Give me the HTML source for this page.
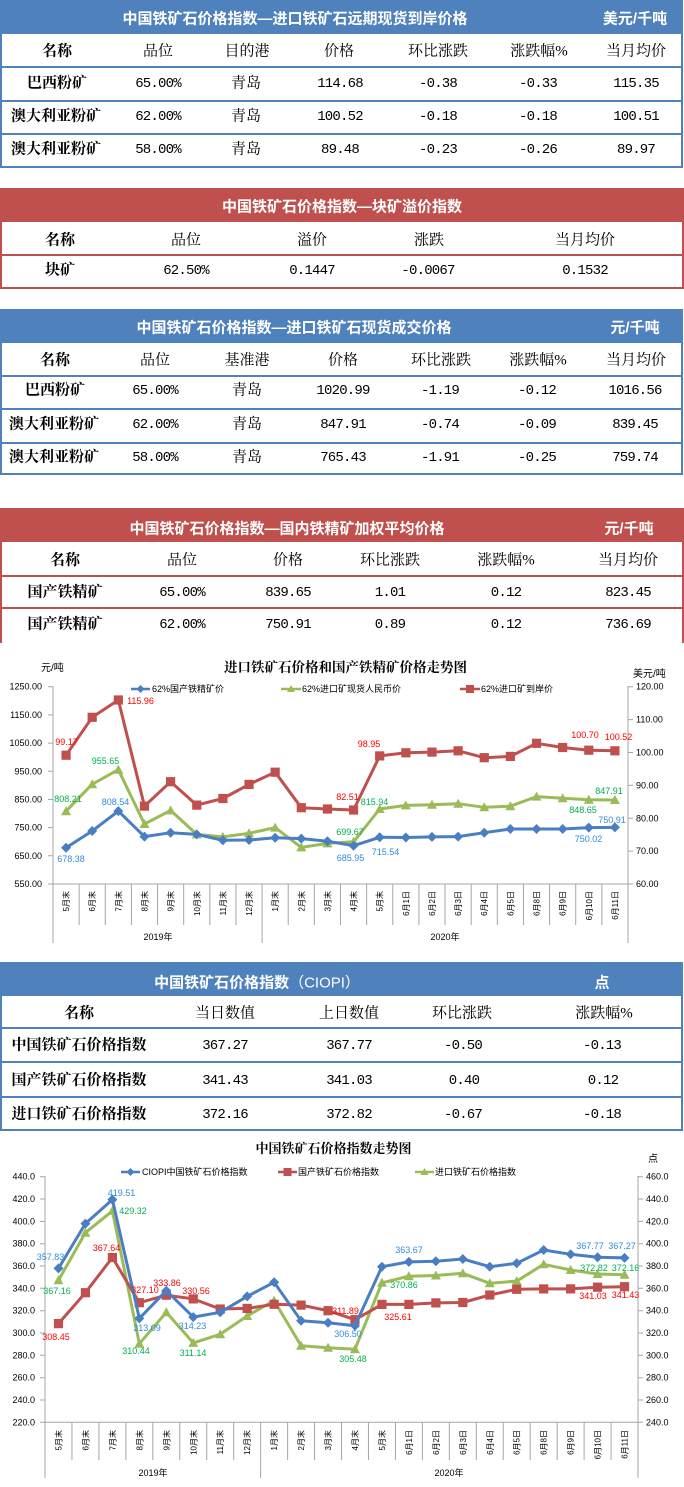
<!DOCTYPE html>
<html><head><meta charset="utf-8">
<style>
*{margin:0;padding:0;box-sizing:border-box}
html,body{width:684px;height:1487px;background:#fff;overflow:hidden}
#pg{position:relative;width:684px;height:1487px;background:#fff}
.r{position:absolute}
.bl{background:#4F81BD}
.rd{background:#C0504D}
.t{position:absolute;transform:translate(-50%,-50%);white-space:nowrap;line-height:1;font-family:"Liberation Serif","Noto Serif CJK SC",serif;font-size:15px;color:#000}
.b{font-weight:700}
.n{font-family:"Liberation Mono",monospace;font-size:14px;letter-spacing:-0.8px}
.h{color:#fff;font-family:"Liberation Sans","Noto Sans CJK SC",sans-serif;font-weight:700;font-size:15px}
svg{position:absolute;left:0;top:0}
svg text{font-family:"Liberation Sans","Noto Sans CJK SC",sans-serif}
</style></head><body><div id="pg">

<!-- TABLE 1 -->
<div class="r bl" style="left:0;top:0;width:683px;height:34px"></div>
<div class="r bl" style="left:0;top:34px;width:2px;height:134px"></div>
<div class="r bl" style="left:681px;top:34px;width:2px;height:134px"></div>
<div class="r bl" style="left:0;top:66px;width:683px;height:2px"></div>
<div class="r bl" style="left:0;top:100px;width:683px;height:2px"></div>
<div class="r bl" style="left:0;top:133px;width:683px;height:2px"></div>
<div class="r bl" style="left:0;top:166px;width:683px;height:2px"></div>
<div class="t h" style="left:295px;top:19px">中国铁矿石价格指数—进口铁矿石远期现货到岸价格</div>
<div class="t h" style="left:635px;top:19px">美元/千吨</div>
<div class="t b" style="left:57px;top:52px">名称</div>
<div class="t" style="left:158px;top:52px">品位</div>
<div class="t" style="left:247px;top:52px">目的港</div>
<div class="t" style="left:339px;top:52px">价格</div>
<div class="t" style="left:438px;top:52px">环比涨跌</div>
<div class="t" style="left:539px;top:52px">涨跌幅%</div>
<div class="t" style="left:636px;top:52px">当月均价</div>

<div class="t b" style="left:57px;top:84px">巴西粉矿</div>
<div class="t n" style="left:158px;top:84px">65.00%</div>
<div class="t" style="left:246px;top:84px">青岛</div>
<div class="t n" style="left:340px;top:84px">114.68</div>
<div class="t n" style="left:438px;top:84px">-0.38</div>
<div class="t n" style="left:538px;top:84px">-0.33</div>
<div class="t n" style="left:636px;top:84px">115.35</div>

<div class="t b" style="left:56px;top:117px">澳大利亚粉矿</div>
<div class="t n" style="left:158px;top:117px">62.00%</div>
<div class="t" style="left:246px;top:117px">青岛</div>
<div class="t n" style="left:340px;top:117px">100.52</div>
<div class="t n" style="left:438px;top:117px">-0.18</div>
<div class="t n" style="left:538px;top:117px">-0.18</div>
<div class="t n" style="left:636px;top:117px">100.51</div>

<div class="t b" style="left:56px;top:150px">澳大利亚粉矿</div>
<div class="t n" style="left:158px;top:150px">58.00%</div>
<div class="t" style="left:246px;top:150px">青岛</div>
<div class="t n" style="left:340px;top:150px">89.48</div>
<div class="t n" style="left:438px;top:150px">-0.23</div>
<div class="t n" style="left:538px;top:150px">-0.26</div>
<div class="t n" style="left:636px;top:150px">89.97</div>

<!-- TABLE 2 -->
<div class="r rd" style="left:0;top:188px;width:684px;height:34px"></div>
<div class="r rd" style="left:0;top:222px;width:2px;height:67px"></div>
<div class="r rd" style="left:682px;top:222px;width:2px;height:67px"></div>
<div class="r rd" style="left:0;top:254px;width:684px;height:2px"></div>
<div class="r rd" style="left:0;top:287px;width:684px;height:2px"></div>
<div class="t h" style="left:342px;top:207px">中国铁矿石价格指数—块矿溢价指数</div>
<div class="t b" style="left:60px;top:241px">名称</div>
<div class="t" style="left:186px;top:241px">品位</div>
<div class="t" style="left:312px;top:241px">溢价</div>
<div class="t" style="left:429px;top:241px">涨跌</div>
<div class="t" style="left:585px;top:241px">当月均价</div>
<div class="t b" style="left:60px;top:271px">块矿</div>
<div class="t n" style="left:186px;top:271px">62.50%</div>
<div class="t n" style="left:312px;top:271px">0.1447</div>
<div class="t n" style="left:428px;top:271px">-0.0067</div>
<div class="t n" style="left:585px;top:271px">0.1532</div>

<!-- TABLE 3 -->
<div class="r bl" style="left:0;top:309px;width:683px;height:34px"></div>
<div class="r bl" style="left:0;top:343px;width:2px;height:132px"></div>
<div class="r bl" style="left:681px;top:343px;width:2px;height:132px"></div>
<div class="r bl" style="left:0;top:375px;width:683px;height:2px"></div>
<div class="r bl" style="left:0;top:408px;width:683px;height:2px"></div>
<div class="r bl" style="left:0;top:442px;width:683px;height:2px"></div>
<div class="r bl" style="left:0;top:473px;width:683px;height:2px"></div>
<div class="t h" style="left:294px;top:328px">中国铁矿石价格指数—进口铁矿石现货成交价格</div>
<div class="t h" style="left:635px;top:328px">元/千吨</div>
<div class="t b" style="left:55px;top:361px">名称</div>
<div class="t" style="left:155px;top:361px">品位</div>
<div class="t" style="left:247px;top:361px">基准港</div>
<div class="t" style="left:343px;top:361px">价格</div>
<div class="t" style="left:441px;top:361px">环比涨跌</div>
<div class="t" style="left:538px;top:361px">涨跌幅%</div>
<div class="t" style="left:636px;top:361px">当月均价</div>

<div class="t b" style="left:55px;top:391px">巴西粉矿</div>
<div class="t n" style="left:155px;top:391px">65.00%</div>
<div class="t" style="left:247px;top:391px">青岛</div>
<div class="t n" style="left:343px;top:391px">1020.99</div>
<div class="t n" style="left:440px;top:391px">-1.19</div>
<div class="t n" style="left:537px;top:391px">-0.12</div>
<div class="t n" style="left:635px;top:391px">1016.56</div>

<div class="t b" style="left:54px;top:425px">澳大利亚粉矿</div>
<div class="t n" style="left:155px;top:425px">62.00%</div>
<div class="t" style="left:247px;top:425px">青岛</div>
<div class="t n" style="left:343px;top:425px">847.91</div>
<div class="t n" style="left:440px;top:425px">-0.74</div>
<div class="t n" style="left:537px;top:425px">-0.09</div>
<div class="t n" style="left:635px;top:425px">839.45</div>

<div class="t b" style="left:54px;top:458px">澳大利亚粉矿</div>
<div class="t n" style="left:155px;top:458px">58.00%</div>
<div class="t" style="left:247px;top:458px">青岛</div>
<div class="t n" style="left:343px;top:458px">765.43</div>
<div class="t n" style="left:440px;top:458px">-1.91</div>
<div class="t n" style="left:537px;top:458px">-0.25</div>
<div class="t n" style="left:635px;top:458px">759.74</div>

<!-- TABLE 4 -->
<div class="r rd" style="left:0;top:508px;width:684px;height:34px"></div>
<div class="r rd" style="left:0;top:542px;width:2px;height:101px"></div>
<div class="r rd" style="left:682px;top:542px;width:2px;height:101px"></div>
<div class="r rd" style="left:0;top:575px;width:684px;height:2px"></div>
<div class="r rd" style="left:0;top:607px;width:684px;height:2px"></div>
<div class="t h" style="left:287px;top:529px">中国铁矿石价格指数—国内铁精矿加权平均价格</div>
<div class="t h" style="left:629px;top:529px">元/千吨</div>
<div class="t b" style="left:65px;top:561px">名称</div>
<div class="t" style="left:182px;top:561px">品位</div>
<div class="t" style="left:288px;top:561px">价格</div>
<div class="t" style="left:390px;top:561px">环比涨跌</div>
<div class="t" style="left:506px;top:561px">涨跌幅%</div>
<div class="t" style="left:628px;top:561px">当月均价</div>

<div class="t b" style="left:65px;top:593px">国产铁精矿</div>
<div class="t n" style="left:182px;top:593px">65.00%</div>
<div class="t n" style="left:288px;top:593px">839.65</div>
<div class="t n" style="left:390px;top:593px">1.01</div>
<div class="t n" style="left:506px;top:593px">0.12</div>
<div class="t n" style="left:628px;top:593px">823.45</div>

<div class="t b" style="left:65px;top:625px">国产铁精矿</div>
<div class="t n" style="left:182px;top:625px">62.00%</div>
<div class="t n" style="left:288px;top:625px">750.91</div>
<div class="t n" style="left:390px;top:625px">0.89</div>
<div class="t n" style="left:506px;top:625px">0.12</div>
<div class="t n" style="left:628px;top:625px">736.69</div>

<!-- TABLE 5 -->
<div class="r bl" style="left:0;top:962px;width:683px;height:34px"></div>
<div class="r bl" style="left:0;top:996px;width:2px;height:135px"></div>
<div class="r bl" style="left:681px;top:996px;width:2px;height:135px"></div>
<div class="r bl" style="left:0;top:1027px;width:683px;height:2px"></div>
<div class="r bl" style="left:0;top:1061px;width:683px;height:2px"></div>
<div class="r bl" style="left:0;top:1096px;width:683px;height:2px"></div>
<div class="r bl" style="left:0;top:1129px;width:683px;height:2px"></div>
<div class="t h" style="left:257px;top:983px">中国铁矿石价格指数<span style="font-weight:400">（CIOPI）</span></div>
<div class="t h" style="left:602px;top:983px">点</div>
<div class="t b" style="left:79px;top:1014px">名称</div>
<div class="t" style="left:225px;top:1014px">当日数值</div>
<div class="t" style="left:349px;top:1014px">上日数值</div>
<div class="t" style="left:462px;top:1014px">环比涨跌</div>
<div class="t" style="left:604px;top:1014px">涨跌幅%</div>

<div class="t b" style="left:79px;top:1046px">中国铁矿石价格指数</div>
<div class="t n" style="left:225px;top:1046px">367.27</div>
<div class="t n" style="left:349px;top:1046px">367.77</div>
<div class="t n" style="left:463px;top:1046px">-0.50</div>
<div class="t n" style="left:602px;top:1046px">-0.13</div>

<div class="t b" style="left:79px;top:1081px">国产铁矿石价格指数</div>
<div class="t n" style="left:225px;top:1081px">341.43</div>
<div class="t n" style="left:349px;top:1081px">341.03</div>
<div class="t n" style="left:464px;top:1081px">0.40</div>
<div class="t n" style="left:603px;top:1081px">0.12</div>

<div class="t b" style="left:79px;top:1115px">进口铁矿石价格指数</div>
<div class="t n" style="left:225px;top:1115px">372.16</div>
<div class="t n" style="left:349px;top:1115px">372.82</div>
<div class="t n" style="left:463px;top:1115px">-0.67</div>
<div class="t n" style="left:602px;top:1115px">-0.18</div>

<!-- CHARTS -->
<svg width="684" height="1487" viewBox="0 0 684 1487" xmlns="http://www.w3.org/2000/svg">
<defs>
<marker id="mdia" viewBox="-6 -6 12 12" markerWidth="12" markerHeight="12" refX="0" refY="0" markerUnits="userSpaceOnUse"><path d="M0,-5L5,0L0,5L-5,0Z" fill="#4A7EC2"/></marker>
<marker id="msq" viewBox="-6 -6 12 12" markerWidth="12" markerHeight="12" refX="0" refY="0" markerUnits="userSpaceOnUse"><rect x="-4.6" y="-4.6" width="9.2" height="9.2" fill="#C0504D"/></marker>
<marker id="mtri" viewBox="-6 -6 12 12" markerWidth="12" markerHeight="12" refX="0" refY="0" markerUnits="userSpaceOnUse"><path d="M0,-5L5,4L-5,4Z" fill="#9BBB59"/></marker>
</defs>

<!-- ===== Chart 1 ===== -->
<text x="345.5" y="672" text-anchor="middle" font-size="13.5" font-weight="700" style="font-family:'Liberation Serif','Noto Serif CJK SC',serif">进口铁矿石价格和国产铁精矿价格走势图</text>
<text x="41" y="671" font-size="10">元/吨</text>
<text x="633" y="677" font-size="10">美元/吨</text>
<!-- legend -->
<line x1="131" y1="689" x2="150" y2="689" stroke="#4A7EC2" stroke-width="2.5"/>
<path d="M140.5,685L144.5,689L140.5,693L136.5,689Z" fill="#4A7EC2"/>
<text x="152" y="692" font-size="9">62%国产铁精矿价</text>
<line x1="281" y1="689" x2="301" y2="689" stroke="#9BBB59" stroke-width="2.5"/>
<path d="M291,685L295,692L287,692Z" fill="#9BBB59"/>
<text x="302" y="692" font-size="9">62%进口矿现货人民币价</text>
<line x1="460" y1="689" x2="480" y2="689" stroke="#C0504D" stroke-width="2.5"/>
<rect x="466" y="685" width="8" height="8" fill="#C0504D"/>
<text x="481" y="692" font-size="9">62%进口矿到岸价</text>

<!-- axes -->
<g stroke="#A6A6A6" stroke-width="1" fill="none">
<path d="M53,686V943M628,686V943M53,884H628"/>
<path d="M48,686.7H53M48,714.9H53M48,743.1H53M48,771.3H53M48,799.5H53M48,827.6H53M48,855.8H53M48,884H53"/>
<path d="M628,686.7H633M628,719.6H633M628,752.5H633M628,785.4H633M628,818.3H633M628,851.1H633M628,884H633"/>
<path d="M79.14,884V925M105.27,884V925M131.41,884V925M157.54,884V925M183.68,884V925M209.82,884V925M235.95,884V925M262.09,884V943M288.22,884V925M314.36,884V925M340.5,884V925M366.63,884V925M392.77,884V925M418.9,884V925M445.04,884V925M471.18,884V925M497.31,884V925M523.45,884V925M549.58,884V925M575.72,884V925M601.86,884V925"/>
</g>
<g font-size="9" fill="#000" text-anchor="end">
<text x="42" y="689.7">1250.00</text><text x="42" y="717.9">1150.00</text><text x="42" y="746.1">1050.00</text><text x="42" y="774.3">950.00</text><text x="42" y="802.5">850.00</text><text x="42" y="830.6">750.00</text><text x="42" y="858.8">650.00</text><text x="42" y="887">550.00</text>
</g>
<g font-size="9" fill="#000">
<text x="636" y="689.7">120.00</text><text x="636" y="722.6">110.00</text><text x="636" y="755.5">100.00</text><text x="636" y="788.4">90.00</text><text x="636" y="821.3">80.00</text><text x="636" y="854.1">70.00</text><text x="636" y="887">60.00</text>
</g>
<g font-size="8" fill="#000" text-anchor="end">
<text x="69.1" y="891" transform="rotate(-90 69.1 891)">5月末</text>
<text x="95.2" y="891" transform="rotate(-90 95.2 891)">6月末</text>
<text x="121.3" y="891" transform="rotate(-90 121.3 891)">7月末</text>
<text x="147.5" y="891" transform="rotate(-90 147.5 891)">8月末</text>
<text x="173.6" y="891" transform="rotate(-90 173.6 891)">9月末</text>
<text x="199.8" y="891" transform="rotate(-90 199.8 891)">10月末</text>
<text x="225.9" y="891" transform="rotate(-90 225.9 891)">11月末</text>
<text x="252" y="891" transform="rotate(-90 252 891)">12月末</text>
<text x="278.2" y="891" transform="rotate(-90 278.2 891)">1月末</text>
<text x="304.3" y="891" transform="rotate(-90 304.3 891)">2月末</text>
<text x="330.4" y="891" transform="rotate(-90 330.4 891)">3月末</text>
<text x="356.6" y="891" transform="rotate(-90 356.6 891)">4月末</text>
<text x="382.7" y="891" transform="rotate(-90 382.7 891)">5月末</text>
<text x="408.8" y="891" transform="rotate(-90 408.8 891)">6月1日</text>
<text x="435" y="891" transform="rotate(-90 435 891)">6月2日</text>
<text x="461.1" y="891" transform="rotate(-90 461.1 891)">6月3日</text>
<text x="487.2" y="891" transform="rotate(-90 487.2 891)">6月4日</text>
<text x="513.4" y="891" transform="rotate(-90 513.4 891)">6月5日</text>
<text x="539.5" y="891" transform="rotate(-90 539.5 891)">6月8日</text>
<text x="565.7" y="891" transform="rotate(-90 565.7 891)">6月9日</text>
<text x="591.8" y="891" transform="rotate(-90 591.8 891)">6月10日</text>
<text x="617.9" y="891" transform="rotate(-90 617.9 891)">6月11日</text>
</g>
<text x="158" y="940" font-size="9" text-anchor="middle">2019年</text>
<text x="445" y="940" font-size="9" text-anchor="middle">2020年</text>

<!-- series chart 1 -->
<polyline fill="none" stroke="#C0504D" stroke-width="3" stroke-linejoin="round" marker-start="url(#msq)" marker-mid="url(#msq)" marker-end="url(#msq)" points="66.07,755.2 92.2,717.3 118.34,700 144.48,806.1 170.61,781.7 196.75,805.1 222.88,798.5 249.02,784.4 275.16,772.2 301.29,807.7 327.43,809 353.56,810 379.7,755.9 405.84,752.8 431.97,752.1 458.11,750.8 484.24,757.7 510.38,756.4 536.52,743.3 562.65,747.5 588.79,750.2 614.92,750.8"/>
<polyline fill="none" stroke="#9BBB59" stroke-width="3" stroke-linejoin="round" marker-start="url(#mtri)" marker-mid="url(#mtri)" marker-end="url(#mtri)" points="66.07,811.2 92.2,784.2 118.34,769.7 144.48,824 170.61,810.4 196.75,834.4 222.88,836.9 249.02,833.3 275.16,827.6 301.29,847.4 327.43,843.4 353.56,841.8 379.7,809 405.84,805.4 431.97,804.8 458.11,803.7 484.24,807.3 510.38,806.2 536.52,796.6 562.65,798.3 588.79,799.8 614.92,800"/>
<polyline fill="none" stroke="#4A7EC2" stroke-width="3" stroke-linejoin="round" marker-start="url(#mdia)" marker-mid="url(#mdia)" marker-end="url(#mdia)" points="66.07,847.8 92.2,831 118.34,811.1 144.48,836.6 170.61,832.7 196.75,834.4 222.88,840.3 249.02,840 275.16,837.8 301.29,838.6 327.43,841.2 353.56,845.7 379.7,837.3 405.84,837.5 431.97,836.9 458.11,836.6 484.24,832.7 510.38,829 536.52,829 562.65,829 588.79,827.6 614.92,827.4"/>

<g font-size="9" text-anchor="middle" fill="#FF0000">
<text x="66.5" y="745">99.17</text><text x="140.5" y="704">115.96</text><text x="369" y="747">98.95</text><text x="585" y="738">100.70</text><text x="618.5" y="740">100.52</text><text x="347.5" y="800">82.51</text>
</g>
<g font-size="9" text-anchor="middle" fill="#00B050">
<text x="68" y="802">808.21</text><text x="105.5" y="764">955.65</text><text x="350" y="835">699.67</text><text x="374.5" y="805">815.94</text><text x="583" y="813">848.65</text><text x="609" y="794">847.91</text>
</g>
<g font-size="9" text-anchor="middle" fill="#2F8EDC">
<text x="71" y="862">678.38</text><text x="115.5" y="805">808.54</text><text x="350.5" y="861">685.95</text><text x="385.5" y="855">715.54</text><text x="588.5" y="842">750.02</text><text x="612" y="823">750.91</text>
</g>

<!-- ===== Chart 2 ===== -->
<text x="333.5" y="1153" text-anchor="middle" font-size="13" font-weight="700" style="font-family:'Liberation Serif','Noto Serif CJK SC',serif">中国铁矿石价格指数走势图</text>
<text x="653" y="1162" font-size="10" text-anchor="middle">点</text>
<line x1="121" y1="1172" x2="140" y2="1172" stroke="#4A7EC2" stroke-width="2.5"/>
<path d="M130.5,1168L134.5,1172L130.5,1176L126.5,1172Z" fill="#4A7EC2"/>
<text x="142" y="1175" font-size="9">CIOPI中国铁矿石价格指数</text>
<line x1="278" y1="1172" x2="297" y2="1172" stroke="#C0504D" stroke-width="2.5"/>
<rect x="283.5" y="1168" width="8" height="8" fill="#C0504D"/>
<text x="298" y="1175" font-size="9">国产铁矿石价格指数</text>
<line x1="415" y1="1172" x2="434" y2="1172" stroke="#9BBB59" stroke-width="2.5"/>
<path d="M424.5,1168L428.5,1175L420.5,1175Z" fill="#9BBB59"/>
<text x="435" y="1175" font-size="9">进口铁矿石价格指数</text>

<g stroke="#A6A6A6" stroke-width="1" fill="none">
<path d="M45,1176V1478M638,1176V1478M45,1422.3H638"/>
<path d="M40,1176.7H45M40,1199H45M40,1221.4H45M40,1243.7H45M40,1266H45M40,1288.3H45M40,1310.7H45M40,1333H45M40,1355.3H45M40,1377.7H45M40,1400H45M40,1422.3H45"/>
<path d="M638,1176.7H643M638,1199H643M638,1221.4H643M638,1243.7H643M638,1266H643M638,1288.3H643M638,1310.7H643M638,1333H643M638,1355.3H643M638,1377.7H643M638,1400H643M638,1422.3H643"/>
<path d="M71.96,1422V1460M98.91,1422V1460M125.87,1422V1460M152.82,1422V1460M179.78,1422V1460M206.73,1422V1460M233.69,1422V1460M260.64,1422V1478M287.6,1422V1460M314.55,1422V1460M341.51,1422V1460M368.46,1422V1460M395.42,1422V1460M422.37,1422V1460M449.33,1422V1460M476.28,1422V1460M503.24,1422V1460M530.19,1422V1460M557.15,1422V1460M584.1,1422V1460M611.06,1422V1460"/>
</g>
<g font-size="9" fill="#000" text-anchor="end">
<text x="35" y="1179.7">440.0</text><text x="35" y="1202">420.0</text><text x="35" y="1224.4">400.0</text><text x="35" y="1246.7">380.0</text><text x="35" y="1269">360.0</text><text x="35" y="1291.3">340.0</text><text x="35" y="1313.7">320.0</text><text x="35" y="1336">300.0</text><text x="35" y="1358.3">280.0</text><text x="35" y="1380.7">260.0</text><text x="35" y="1403">240.0</text><text x="35" y="1425.3">220.0</text>
</g>
<g font-size="9" fill="#000">
<text x="646" y="1179.7">460.0</text><text x="646" y="1202">440.0</text><text x="646" y="1224.4">420.0</text><text x="646" y="1246.7">400.0</text><text x="646" y="1269">380.0</text><text x="646" y="1291.3">360.0</text><text x="646" y="1313.7">340.0</text><text x="646" y="1336">320.0</text><text x="646" y="1358.3">300.0</text><text x="646" y="1380.7">280.0</text><text x="646" y="1403">260.0</text><text x="646" y="1425.3">240.0</text>
</g>
<g font-size="8" fill="#000" text-anchor="end">
<text x="61.5" y="1430" transform="rotate(-90 61.5 1430)">5月末</text>
<text x="88.4" y="1430" transform="rotate(-90 88.4 1430)">6月末</text>
<text x="115.4" y="1430" transform="rotate(-90 115.4 1430)">7月末</text>
<text x="142.3" y="1430" transform="rotate(-90 142.3 1430)">8月末</text>
<text x="169.3" y="1430" transform="rotate(-90 169.3 1430)">9月末</text>
<text x="196.3" y="1430" transform="rotate(-90 196.3 1430)">10月末</text>
<text x="223.2" y="1430" transform="rotate(-90 223.2 1430)">11月末</text>
<text x="250.2" y="1430" transform="rotate(-90 250.2 1430)">12月末</text>
<text x="277.1" y="1430" transform="rotate(-90 277.1 1430)">1月末</text>
<text x="304.1" y="1430" transform="rotate(-90 304.1 1430)">2月末</text>
<text x="331" y="1430" transform="rotate(-90 331 1430)">3月末</text>
<text x="358" y="1430" transform="rotate(-90 358 1430)">4月末</text>
<text x="384.9" y="1430" transform="rotate(-90 384.9 1430)">5月末</text>
<text x="411.9" y="1430" transform="rotate(-90 411.9 1430)">6月1日</text>
<text x="438.9" y="1430" transform="rotate(-90 438.9 1430)">6月2日</text>
<text x="465.8" y="1430" transform="rotate(-90 465.8 1430)">6月3日</text>
<text x="492.8" y="1430" transform="rotate(-90 492.8 1430)">6月4日</text>
<text x="519.7" y="1430" transform="rotate(-90 519.7 1430)">6月5日</text>
<text x="546.7" y="1430" transform="rotate(-90 546.7 1430)">6月8日</text>
<text x="573.6" y="1430" transform="rotate(-90 573.6 1430)">6月9日</text>
<text x="600.6" y="1430" transform="rotate(-90 600.6 1430)">6月10日</text>
<text x="627.5" y="1430" transform="rotate(-90 627.5 1430)">6月11日</text>
</g>
<text x="153" y="1476" font-size="9" text-anchor="middle">2019年</text>
<text x="449" y="1476" font-size="9" text-anchor="middle">2020年</text>

<polyline fill="none" stroke="#9BBB59" stroke-width="3" stroke-linejoin="round" marker-start="url(#mtri)" marker-mid="url(#mtri)" marker-end="url(#mtri)" points="58.48,1280.3 85.43,1232.7 112.39,1210.9 139.34,1343.7 166.3,1312.3 193.25,1342.9 220.21,1334.3 247.16,1316 274.12,1300.6 301.07,1345.7 328.03,1347.7 354.98,1349.2 381.94,1282.8 408.89,1276.2 435.85,1275.5 462.8,1273.3 489.76,1283.3 516.71,1281.1 543.67,1264.3 570.62,1270 597.58,1274 624.53,1274.8"/>
<polyline fill="none" stroke="#C0504D" stroke-width="3" stroke-linejoin="round" marker-start="url(#msq)" marker-mid="url(#msq)" marker-end="url(#msq)" points="58.48,1323.6 85.43,1292.7 112.39,1257.5 139.34,1302.7 166.3,1295.2 193.25,1298.9 220.21,1309 247.16,1308.4 274.12,1304.3 301.07,1305.1 328.03,1310.7 354.98,1319.7 381.94,1304.4 408.89,1304.4 435.85,1302.9 462.8,1302.5 489.76,1295 516.71,1289.3 543.67,1288.9 570.62,1288.9 597.58,1287.2 624.53,1286.7"/>
<polyline fill="none" stroke="#4A7EC2" stroke-width="3" stroke-linejoin="round" marker-start="url(#mdia)" marker-mid="url(#mdia)" marker-end="url(#mdia)" points="58.48,1268.4 85.43,1223.6 112.39,1199.6 139.34,1318.4 166.3,1290.7 193.25,1317.1 220.21,1312.3 247.16,1296.4 274.12,1282.3 301.07,1320.7 328.03,1322.7 354.98,1325.7 381.94,1266.7 408.89,1261.9 435.85,1261.2 462.8,1259 489.76,1266.7 516.71,1263.3 543.67,1250 570.62,1254.3 597.58,1257.3 624.53,1257.9"/>

<g font-size="9" text-anchor="middle" fill="#2F8EDC">
<text x="50.5" y="1260">357.83</text><text x="121.5" y="1196">419.51</text><text x="147" y="1331">313.09</text><text x="192.5" y="1329">314.23</text><text x="348" y="1337">306.50</text><text x="409" y="1253">363.67</text><text x="590" y="1249">367.77</text><text x="622" y="1249">367.27</text>
</g>
<g font-size="9" text-anchor="middle" fill="#FF0000">
<text x="56" y="1340">308.45</text><text x="106.5" y="1251">367.64</text><text x="145" y="1293">327.10</text><text x="167" y="1286">333.86</text><text x="196" y="1294">330.56</text><text x="345.5" y="1314">311.89</text><text x="398" y="1320">325.61</text><text x="593" y="1299">341.03</text><text x="625.5" y="1298">341.43</text>
</g>
<g font-size="9" text-anchor="middle" fill="#00B050">
<text x="57" y="1294">367.16</text><text x="133" y="1214">429.32</text><text x="136" y="1354">310.44</text><text x="193" y="1356">311.14</text><text x="353" y="1362">305.48</text><text x="404" y="1288">370.86</text><text x="594" y="1271">372.82</text><text x="625.5" y="1271">372.16</text>
</g>
</svg>
</div></body></html>
